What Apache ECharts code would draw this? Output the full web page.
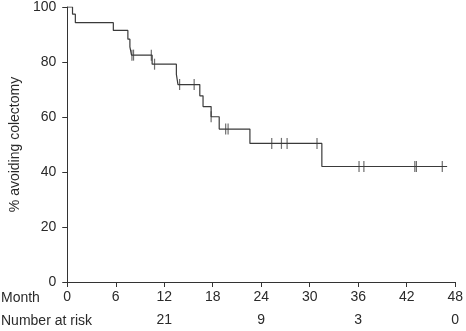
<!DOCTYPE html>
<html>
<head>
<meta charset="utf-8">
<script src="https://cdn.jsdelivr.net/npm/echarts@6/dist/echarts.min.js"></script>
<style>
html,body{margin:0;padding:0;background:#fff;}
#c{width:466px;height:331px;}
</style>
</head>
<body>
<div id="c"></div>
<script>
// Kaplan-Meier steps: month of event and survival (%) after it
const months = [0, 0.65, 1.0, 5.7, 7.5, 7.75, 7.95, 10.5, 13.5, 13.7, 16.4, 16.8, 17.8, 18.8, 22.6, 31.5, 47.0];
const survival = [100, 97.4, 94.3, 91.5, 88.3, 85.5, 82.5, 79.2, 75.5, 71.8, 67.7, 63.8, 60.1, 55.6, 50.4, 42.0, 42.0];
// censored observations
const censorMonths = [8.0, 8.2, 10.4, 10.8, 13.9, 15.7, 17.8, 19.6, 19.9, 25.3, 26.5, 27.2, 30.9, 36.1, 36.7, 43.0, 43.2, 46.4];
const censorValues = [82.5, 82.5, 82.5, 79.2, 71.8, 71.8, 60.1, 55.6, 55.6, 50.4, 50.4, 50.4, 50.4, 42.0, 42.0, 42.0, 42.0, 42.0];
// number at risk
const riskMonths = [12, 24, 36, 48];
const riskCounts = [21, 9, 3, 0];

const font = 'Liberation Sans, Arial, sans-serif';
const txt = '#2a2a2a';

const chart = echarts.init(document.getElementById('c'), null, {renderer: 'canvas'});
chart.setOption({
  animation: false,
  backgroundColor: '#fff',
  grid: {left: 62, right: 10, top: 6, bottom: 49, containLabel: false},
  xAxis: [{
    type: 'value', min: 0, max: 48, interval: 6,
    axisLine: {show: true, lineStyle: {color: '#333', width: 1}},
    axisTick: {show: true, length: 5, inside: false, lineStyle: {color: '#333'}},
    axisLabel: {color: txt, fontSize: 14, fontFamily: font, margin: 8},
    splitLine: {show: false}
  }, {
    type: 'value', min: 0, max: 48, interval: 6, position: 'bottom', offset: 23,
    axisLine: {show: false}, axisTick: {show: false}, splitLine: {show: false},
    axisLabel: {color: txt, fontSize: 14, fontFamily: font, margin: 8,
      formatter: v => { const i = riskMonths.indexOf(v); return i >= 0 ? String(riskCounts[i]) : ''; }}
  }],
  yAxis: {
    type: 'value', min: 0, max: 100, interval: 20,
    name: '% avoiding colectomy', nameLocation: 'middle', nameGap: 42,
    nameTextStyle: {color: txt, fontSize: 14, fontFamily: font},
    axisLine: {show: true, lineStyle: {color: '#333', width: 1}},
    axisTick: {show: true, length: 5, lineStyle: {color: '#333'}},
    axisLabel: {color: txt, fontSize: 14, fontFamily: font, margin: 11},
    splitLine: {show: false}
  },
  graphic: [
    {type: 'text', left: 1, top: 291, style: {text: 'Month', fill: txt, font: '14px ' + font}},
    {type: 'text', left: 1, top: 314, style: {text: 'Number at risk', fill: txt, font: '14px ' + font}}
  ],
  series: [{
    type: 'line', step: 'end', symbol: 'none',
    data: months.map((m, i) => [m, survival[i]]),
    lineStyle: {color: '#3a3a3a', width: 1.2}
  }, {
    type: 'scatter', symbol: 'rect', symbolSize: [1.2, 11],
    data: censorMonths.map((m, i) => [m, censorValues[i]]),
    itemStyle: {color: '#4a4a4a'}
  }]
});
</script>
</body>
</html>
